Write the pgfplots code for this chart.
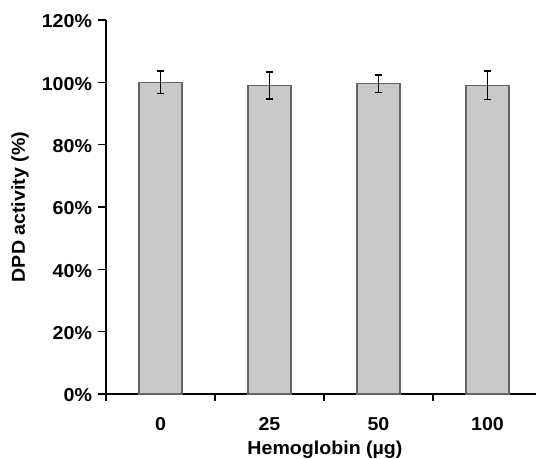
\documentclass[border=0pt]{standalone}
\usepackage{pgfplots}
\pgfplotsset{compat=1.18}
\usepackage{fontspec}
\setmainfont{Liberation Sans}[FakeStretch=1.05]
\definecolor{barfill}{RGB}{200,201,203}
\definecolor{baredge}{RGB}{100,100,100}
\begin{document}
\begin{tikzpicture}
\begin{axis}[
  at={(0,0)}, anchor=south west,
  scale only axis, width=322.5pt, height=280.5pt,
  xmin=-0.5, xmax=3.445, ymin=0, ymax=120,
  axis x line*=bottom, axis y line*=left,
  axis line style={line width=1pt, black},
  tick pos=left, tick align=outside,
  ytick={0,20,40,60,80,100,120},
  yticklabels={0\%,20\%,40\%,60\%,80\%,100\%,120\%},
  xtick={0,1,2,3}, xticklabels={0,25,50,100},
  minor xtick={-0.5,0.5,1.5,2.5},
  major x tick style={draw=none},
  minor x tick style={line width=1pt, black},
  major y tick style={line width=1pt, black},
  major tick length=6pt, minor tick length=5pt,
  tick label style={font=\fontsize{14}{16}\selectfont\bfseries},
  xticklabel style={yshift=-8pt},
  yticklabel style={xshift=-1pt, yshift=-1pt},
  label style={font=\fontsize{14}{16}\selectfont\bfseries},
  xlabel={Hemoglobin (µg)},
  ylabel={DPD activity (\%)},
  xlabel style={at={(axis description cs:0.5,0)}, anchor=center, yshift=-41.5pt, xshift=3pt},
  ylabel style={at={(axis description cs:0,0.5)}, anchor=center, yshift=64.5pt},
  ybar, bar width=0.394,
]
\addplot[fill=barfill, draw=baredge, line width=0.8pt,
  error bars/.cd, y dir=both, y explicit,
  error bar style={line width=1pt, black},
  error mark options={rotate=90, line width=1pt, mark size=2.6pt, black}]
  coordinates {(0,100) +- (0,3.6) (1,99.0) +- (0,4.3) (2,99.6) +- (0,2.8) (3,99.0) +- (0,4.6)};
\end{axis}
\pgfresetboundingbox
\path (-79.5pt,-48pt) rectangle (322.5pt,295.5pt);
\end{tikzpicture}
\end{document}
